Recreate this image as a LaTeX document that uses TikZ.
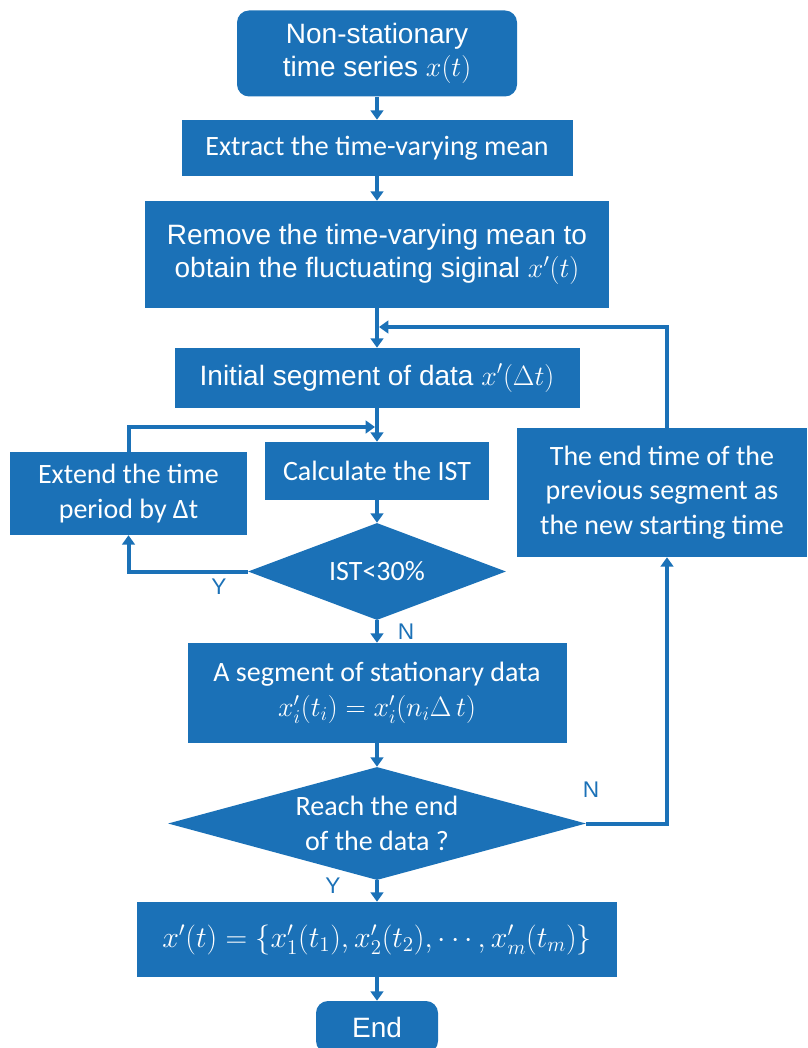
\documentclass[tikz,border=0pt]{standalone}
\usepackage{fix-cm}
\usepackage{fontspec}
\setmainfont{Liberation Sans}
\newfontfamily\carl{Carlito}
\usetikzlibrary{shapes.geometric,arrows.meta}
\definecolor{fb}{RGB}{27,113,183}
\newcommand\arialf{\fontsize{21pt}{25pt}\selectfont}
\newcommand\calf{\carl\fontsize{21pt}{26pt}\selectfont}
\begin{document}
\begin{tikzpicture}[x=0.75pt,y=-0.75pt,
  box/.style={fill=fb,text=white,inner sep=0pt,align=center,font=\calf},
  abox/.style={box,font=\arialf},
  dia/.style={diamond,fill=fb,text=white,inner sep=0pt,align=center,font=\calf},
  arr/.style={draw=fb,line width=3pt,-{Triangle[length=7pt,width=9.5pt]}},
  ln/.style={draw=fb,line width=3pt},
  lab/.style={text=fb,font=\fontsize{17pt}{20pt}\selectfont,inner sep=0pt}]
\useasboundingbox (0,0) rectangle (807,1048);

\node[abox,rounded corners=9pt,minimum width=280*0.75pt,minimum height=86*0.75pt] (start) at (377,53.5) {Non-stationary\\time series $x(t)$};
\node[box,minimum width=391*0.75pt,minimum height=56*0.75pt] (extract) at (377,148) {Extract the time-varying mean};
\node[abox,minimum width=464*0.75pt,minimum height=107*0.75pt] (remove) at (377,254.5) {Remove the time-varying mean to\\obtain the fluctuating siginal $x'(t)$};
\node[abox,minimum width=405*0.75pt,minimum height=60*0.75pt] (init) at (377,378) {Initial segment of data $x'(\Delta t)$};
\node[box,minimum width=224*0.75pt,minimum height=58*0.75pt] (calc) at (377,471) {Calculate the IST};
\node[box,minimum width=237*0.75pt,minimum height=83*0.75pt] (extend) at (128.5,493.5) {Extend the time\\period by Δt};
\node[dia,aspect=2.64,minimum width=258*0.75pt,minimum height=97*0.75pt] (d1) at (377,571.5) {IST<30\%};
\node[box,minimum width=290*0.75pt,minimum height=129*0.75pt] (endt) at (662,492.5) {The end time of the\\previous segment as\\the new starting time};
\node[box,minimum width=379*0.75pt,minimum height=100*0.75pt] (seg) at (377,693) {A segment of stationary data\\$x'_i(t_i)=x'_i(n_i\Delta\,t)$};
\node[dia,aspect=3.7,minimum width=418*0.75pt,minimum height=113*0.75pt] (d2) at (377,823.5) {Reach the end\\of the data ?};
\node[box,minimum width=480*0.75pt,minimum height=75*0.75pt,font=\fontsize{22.5pt}{26pt}\selectfont] (form) at (377,939.5) {$x'(t)=\{x'_1(t_1),x'_2(t_2),\cdots,x'_m(t_m)\}$};
\node[abox,rounded corners=9pt,minimum width=122*0.75pt,minimum height=52*0.75pt] (endn) at (377,1027) {End};

\coordinate (rx) at (667,0);
\coordinate (j1) at (379,327);
\coordinate (j2) at (375,427);

\draw[arr] (start) -- (extract);
\draw[arr] (extract) -- (remove);
\draw[arr] (remove) -- (init);
\draw[arr] (init) -- (calc);
\draw[arr] (calc) -- (d1);
\draw[arr] (d1) -- (seg);
\draw[arr] (seg) -- (d2);
\draw[arr] (d2) -- (form);
\draw[arr] (form) -- (endn);
\draw[arr] (d1.west) -| (extend.south);
\draw[arr] (extend.north) |- (j2);
\draw[arr] (d2.east) -| (rx |- endt.south);
\draw[arr] (rx |- endt.north) |- (j1);

\node[lab] (ly1) at (219,587) {Y};
\node[lab] (ln1) at (406,632) {N};
\node[lab] (ln2) at (591,790) {N};
\node[lab] (ly2) at (333,886) {Y};
\end{tikzpicture}
\end{document}
